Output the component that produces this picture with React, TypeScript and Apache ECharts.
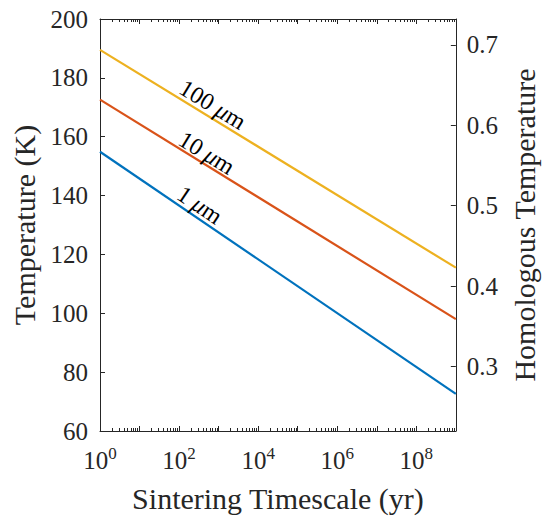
import React, { useEffect, useRef } from "react";
import * as echarts from "echarts";

// ---- data ----
const timeRange = [1, 1e9]; // yr
const tempRange = [60, 200]; // K
const meltTemp = 273.15; // K, homologous scale
const xLabelValues = [1, 1e2, 1e4, 1e6, 1e8];
const xMajorTicks = [1, 1e1, 1e2, 1e3, 1e4, 1e5, 1e6, 1e7, 1e8, 1e9];
const homologousTicks = [0.3, 0.4, 0.5, 0.6, 0.7];
const lineTimes = [1, 1e9];
const temp1um = [154.9, 72.6];
const temp10um = [172.6, 98.0];
const temp100um = [189.5, 115.5];
const sizeNames = ["1", "10", "100"];
const labelTimes = [335, 501, 708];
const labelTemps = [136.8, 154.5, 170.9];
const labelAngles = [-34, -31.5, -31.3];
const colors = ["#0072BD", "#D95319", "#EDB120"];

const FONT = "Liberation Serif";
const TXT = "#262626";

function minorTicks(): number[] {
  const out: number[] = [];
  for (let k = 0; k < 9; k++) {
    for (let j = 2; j <= 9; j++) out.push(j * Math.pow(10, k));
  }
  return out;
}

export default function App() {
  const ref = useRef<HTMLDivElement>(null);
  useEffect(() => {
    if (!ref.current) return;
    const chart = echarts.init(ref.current, null, { renderer: "svg" });
    const temps = [temp1um, temp10um, temp100um];
    const minors = minorTicks();
    const baseX = {
      type: "log",
      logBase: 10,
      min: timeRange[0],
      max: timeRange[1],
      gridIndex: 0,
      splitLine: { show: false },
    };
    const tickLine = { color: TXT, width: 1 };
    const option: any = {
      animation: false,
      textStyle: { fontFamily: FONT },
      grid: { left: 100, right: 86, top: 19, bottom: 85, containLabel: false },
      xAxis: [
        {
          ...baseX,
          position: "bottom",
          name: "Sintering Timescale (yr)",
          nameLocation: "middle",
          nameGap: 52,
          nameTextStyle: { fontFamily: FONT, fontSize: 30, color: TXT },
          axisLine: { show: true, lineStyle: { color: TXT, width: 1 } },
          axisTick: { show: true, inside: true, length: 5, customValues: xMajorTicks, lineStyle: tickLine },
          axisLabel: {
            show: true,
            customValues: xLabelValues,
            margin: 14,
            fontFamily: FONT,
            formatter: (v: number) => `{b|10}{s|${Math.round(Math.log10(v))}}`,
            rich: {
              b: { fontFamily: FONT, fontSize: 25, color: TXT },
              s: { fontFamily: FONT, fontSize: 17, color: TXT, padding: [0, 0, 14, 0] },
            },
          },
        },
        {
          ...baseX,
          position: "bottom",
          axisLine: { show: false },
          axisTick: { show: true, inside: true, length: 3, customValues: minors, lineStyle: tickLine },
          axisLabel: { show: false },
        },
        {
          ...baseX,
          position: "top",
          axisLine: { show: true, lineStyle: { color: TXT, width: 1 } },
          axisTick: { show: true, inside: true, length: 5, customValues: xMajorTicks, lineStyle: tickLine },
          axisLabel: { show: false },
        },
        {
          ...baseX,
          position: "top",
          axisLine: { show: false },
          axisTick: { show: true, inside: true, length: 3, customValues: minors, lineStyle: tickLine },
          axisLabel: { show: false },
        },
      ],
      yAxis: [
        {
          type: "value",
          position: "left",
          min: tempRange[0],
          max: tempRange[1],
          interval: 20,
          name: "Temperature (K)",
          nameLocation: "middle",
          nameRotate: 90,
          nameGap: 57,
          nameTextStyle: { fontFamily: FONT, fontSize: 30, color: TXT },
          splitLine: { show: false },
          axisLine: { show: true, lineStyle: { color: TXT, width: 1 } },
          axisTick: { show: true, inside: true, length: 5, lineStyle: tickLine },
          axisLabel: { fontFamily: FONT, fontSize: 25, color: TXT, margin: 12 },
        },
        {
          type: "value",
          position: "right",
          min: tempRange[0] / meltTemp,
          max: tempRange[1] / meltTemp,
          name: "Homologous Temperature",
          nameLocation: "middle",
          nameRotate: 90,
          nameGap: 52,
          nameTextStyle: { fontFamily: FONT, fontSize: 30, color: TXT },
          splitLine: { show: false },
          axisLine: { show: true, lineStyle: { color: TXT, width: 1 } },
          axisTick: { show: true, inside: true, length: 5, customValues: homologousTicks, lineStyle: tickLine },
          axisLabel: {
            customValues: homologousTicks,
            fontFamily: FONT,
            fontSize: 25,
            color: TXT,
            margin: 11,
            formatter: (v: number) => v.toFixed(1),
          },
        },
      ],
      series: temps.map((arr, i) => ({
        type: "line",
        name: `${sizeNames[i]} μm`,
        xAxisIndex: 0,
        yAxisIndex: 0,
        showSymbol: false,
        symbol: "none",
        lineStyle: { color: colors[i], width: 2.2 },
        data: lineTimes.map((t, j) => [t, arr[j]]),
        markPoint: {
          symbol: "circle",
          symbolSize: 0,
          silent: true,
          data: [
            {
              coord: [labelTimes[i], labelTemps[i]],
              label: {
                show: true,
                position: "inside",
                rotate: labelAngles[i],
                formatter: `{n|${sizeNames[i]} }{m|μ}{n|m}`,
                rich: {
                  n: { fontFamily: FONT, fontSize: 24, color: "#000" },
                  m: { fontFamily: FONT, fontSize: 24, fontStyle: "italic", color: "#000" },
                },
              },
            },
          ],
        },
      })),
    };
    chart.setOption(option);
    return () => chart.dispose();
  }, []);
  return (
    <div
      ref={ref}
      style={{ position: "absolute", left: 0, top: 0, width: 547, height: 518, background: "#fff" }}
    />
  );
}
